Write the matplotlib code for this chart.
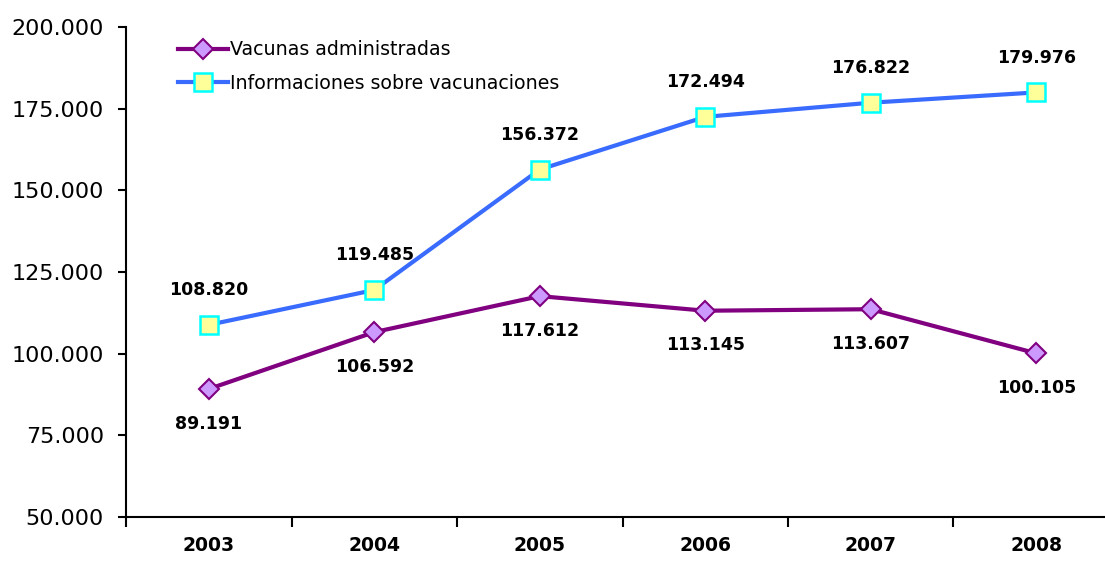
import numpy as np
import matplotlib
matplotlib.use("Agg")
import matplotlib.pyplot as plt
from matplotlib.ticker import FuncFormatter

years = ["2003", "2004", "2005", "2006", "2007", "2008"]
vacunas = [89191, 106592, 117612, 113145, 113607, 100105]
informaciones = [108820, 119485, 156372, 172494, 176822, 179976]


def miles(v, _=None):
    # dot as thousands separator
    return f"{int(round(v)):,}".replace(",", ".")


W, H = 1105, 564
fig = plt.figure(figsize=(W / 100, H / 100), dpi=100)
ax = fig.add_axes([126 / W, (H - 517) / H, 1 - 126 / W, (517 - 27) / H])

x = np.arange(len(years))
ax.plot(x, vacunas, "-", color="#800080", lw=3, marker="D", ms=10,
        mfc="#CC99FF", mec="#800080", mew=1.5, label="Vacunas administradas",
        zorder=3)
ax.plot(x, informaciones, "-", color="#3A6BFF", lw=3, marker="s", ms=13,
        mfc="#FFFF99", mec="#00FFFF", mew=1.8,
        label="Informaciones sobre vacunaciones", zorder=3)

for xi, v in zip(x, vacunas):
    ax.annotate(miles(v), (xi, v), xytext=(0, -25), textcoords="offset points",
                ha="center", va="center", fontsize=12.5, fontweight="bold")
for xi, v in zip(x, informaciones):
    ax.annotate(miles(v), (xi, v), xytext=(0, 25), textcoords="offset points",
                ha="center", va="center", fontsize=12.5, fontweight="bold")

ax.set_ylim(50000, 200000)
ax.set_yticks(np.arange(50000, 200001, 25000))
ax.yaxis.set_major_formatter(FuncFormatter(miles))
ax.set_xlim(-0.5, -0.5 + (W - 126) / 165.5)
ax.set_xticks(np.arange(-0.5, 5, 1))
ax.set_xticklabels([])
ax.set_xticks(x, minor=True)
ax.set_xticklabels(years, minor=True, fontsize=13.5, fontweight="bold")
ax.tick_params(axis="x", which="minor", length=0, pad=14)
ax.tick_params(axis="x", which="major", length=7, width=1.5, direction="out")
ax.tick_params(axis="y", length=6, width=1.5, direction="out", labelsize=16,
               pad=10)

for s in ("top", "right"):
    ax.spines[s].set_visible(False)
for s in ("left", "bottom"):
    ax.spines[s].set_linewidth(1.5)

ax.legend(loc="upper left", bbox_to_anchor=(0.04, 1.0), frameon=False,
          fontsize=13.7, handlelength=2.6, handletextpad=0.1,
          borderaxespad=0.3, labelspacing=0.75)

fig.savefig("out.png", dpi=100)
